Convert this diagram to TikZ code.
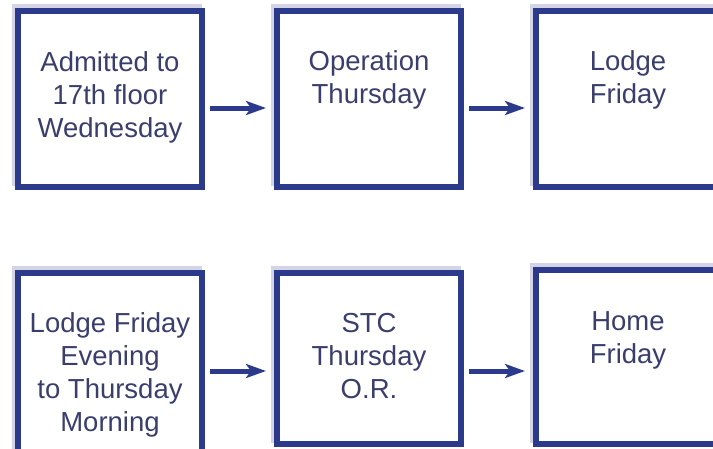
\documentclass[tikz,border=0pt]{standalone}
\usepackage{fontspec}
\setmainfont{Liberation Sans}
\usetikzlibrary{arrows.meta,backgrounds}
\definecolor{boxblue}{RGB}{44,58,140}
\definecolor{txtc}{RGB}{58,62,108}
\definecolor{shadowc}{RGB}{212,212,230}
\tikzset{
  stepbox/.style={draw=boxblue, line width=6pt, fill=white, minimum width=184pt, inner sep=0pt},
  lbl/.style={anchor=north, align=center, inner sep=0pt, text=txtc,
    font=\fontsize{27.5}{33}\selectfont},
  conn/.style={draw=boxblue, line width=5pt, shorten <=5pt, shorten >=8pt,
    -{Stealth[length=20pt, width=14pt, inset=5pt]}},
  shd/.style={fill=shadowc}
}
\newcommand{\sstrut}{\rule{0pt}{23.5pt}}
\begin{document}
\begin{tikzpicture}[x=1pt,y=-1pt]
\useasboundingbox (0,0) rectangle (713,448);
\begin{scope}[on background layer]
\fill[white] (0,0) rectangle (713,448);
\end{scope}
% boxes
\node[stepbox, minimum height=176pt] (b1) at (110,99) {};
\node[stepbox, minimum height=176pt] (b2) at (369,99) {};
\node[stepbox, minimum height=176pt] (b3) at (628,99) {};
\node[stepbox, minimum height=179pt] (b4) at (110,362.5) {};
\node[stepbox, minimum height=171pt] (b5) at (369,358.5) {};
\node[stepbox, minimum height=174pt] (b6) at (628,357) {};
\begin{scope}[on background layer]
\foreach \b in {b1,b2,b3,b4,b5,b6}{
  \fill[shd] ([shift={(-3,-4)}]\b.north west) rectangle ([shift={(-3,-4)}]\b.south east);
}
\end{scope}
% labels
\node[lbl] (t1) at (110,47.5) {\sstrut Admitted to\\17th floor\\Wednesday};
\node[lbl] (t2) at (369,46.5) {\sstrut Operation\\Thursday};
\node[lbl] (t3) at (628,46.5) {\sstrut Lodge\\Friday};
\node[lbl] (t4) at (110,308.5) {\sstrut Lodge Friday\\Evening\\to Thursday\\Morning};
\node[lbl] (t5) at (369,308.5) {\sstrut STC\\Thursday\\O.R.};
\node[lbl] (t6) at (628,306.5) {\sstrut Home\\Friday};
% connectors
\coordinate (r1) at (0,108);
\coordinate (r2) at (0,371);
\draw[conn] (b1.east |- r1) -- (b2.west |- r1);
\draw[conn] (b2.east |- r1) -- (b3.west |- r1);
\draw[conn] (b4.east |- r2) -- (b5.west |- r2);
\draw[conn] (b5.east |- r2) -- (b6.west |- r2);
\end{tikzpicture}
\end{document}
